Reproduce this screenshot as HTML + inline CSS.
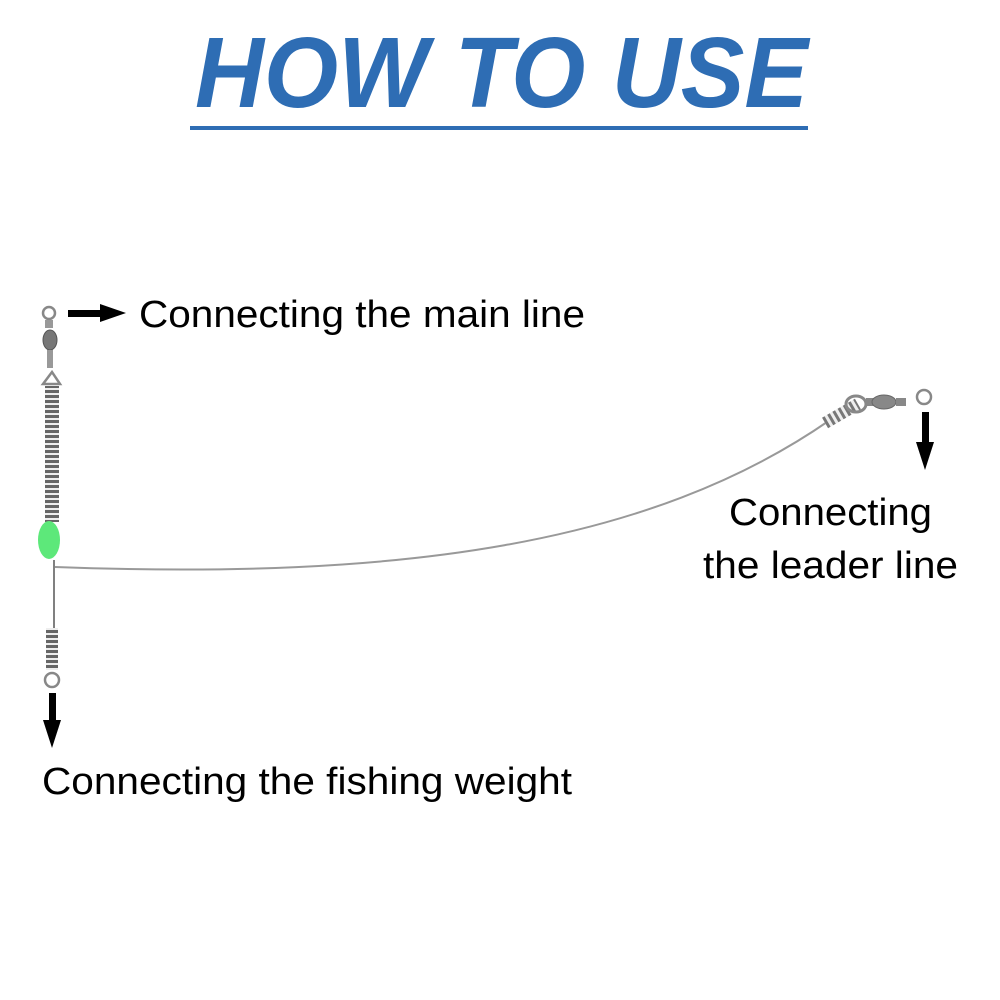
<!DOCTYPE html>
<html><head><meta charset="utf-8"><style>
html,body{margin:0;padding:0;background:#fff;}
svg{display:block;}
text{font-family:"Liberation Sans",Arial,sans-serif;}
</style></head><body>
<svg width="1000" height="1000" viewBox="0 0 1000 1000" xmlns="http://www.w3.org/2000/svg">
<defs>
<pattern id="sp" width="14" height="5" patternUnits="userSpaceOnUse">
<rect width="14" height="5" fill="#eee"/>
<rect y="0" width="14" height="3" fill="#666"/>
</pattern>
<pattern id="sp2" width="6" height="14" patternUnits="userSpaceOnUse">
<rect width="6" height="14" fill="#eee"/>
<rect width="3" height="14" fill="#777"/>
</pattern>
</defs>
<rect width="1000" height="1000" fill="#fff"/>
<text x="195" y="107" font-size="100" font-weight="bold" font-style="italic" fill="#2e6db4" textLength="613" lengthAdjust="spacingAndGlyphs">HOW TO USE</text>
<rect x="190" y="126" width="618" height="4" fill="#2e6db4"/>

<!-- left rig -->
<circle cx="49" cy="313" r="6" fill="none" stroke="#888" stroke-width="2.5"/>
<rect x="45" y="320" width="8" height="8" fill="#999"/>
<ellipse cx="50" cy="340" rx="7" ry="10" fill="#777" stroke="#555"/>
<rect x="47" y="350" width="6" height="18" fill="#999"/>
<path d="M43,384 L52,372 L60,384 Z" fill="none" stroke="#888" stroke-width="2.5"/>
<rect x="45" y="386" width="14" height="136" fill="url(#sp)"/>
<ellipse cx="49" cy="540" rx="11" ry="19" fill="#5de87a"/>
<line x1="54" y1="560" x2="54" y2="628" stroke="#555" stroke-width="1.5"/>
<rect x="46" y="628" width="12" height="42" fill="url(#sp)"/>
<circle cx="52" cy="680" r="7" fill="none" stroke="#888" stroke-width="2.5"/>
<rect x="49" y="693" width="7" height="30" fill="#000"/>
<polygon points="43,720 61,720 52,748" fill="#000"/>

<!-- arrow right -->
<rect x="68" y="310" width="34" height="7" fill="#000"/>
<polygon points="100,304 100,322 126,313" fill="#000"/>
<text x="139" y="327" font-size="38" fill="#000" textLength="446" lengthAdjust="spacingAndGlyphs">Connecting the main line</text>

<!-- leader wire -->
<path d="M55,567 C400,580 650,545 830,420" fill="none" stroke="#999" stroke-width="2"/>
<g transform="translate(825,423) rotate(-30)">
<rect x="0" y="-6" width="38" height="12" fill="url(#sp2)"/>
</g>
<ellipse cx="856" cy="404" rx="10" ry="8" fill="none" stroke="#888" stroke-width="3"/>
<rect x="866" y="398" width="8" height="8" fill="#888"/>
<ellipse cx="884" cy="402" rx="12" ry="7" fill="#888" stroke="#666"/>
<rect x="896" y="398" width="10" height="8" fill="#888"/>
<circle cx="924" cy="397" r="7" fill="none" stroke="#888" stroke-width="2.5"/>
<rect x="922" y="412" width="7" height="32" fill="#000"/>
<polygon points="916,442 934,442 925,470" fill="#000"/>
<text x="729" y="525" font-size="38" fill="#000" textLength="203" lengthAdjust="spacingAndGlyphs">Connecting</text>
<text x="703" y="578" font-size="38" fill="#000" textLength="255" lengthAdjust="spacingAndGlyphs">the leader line</text>

<text x="42" y="794" font-size="38" fill="#000" textLength="530" lengthAdjust="spacingAndGlyphs">Connecting the fishing weight</text>
</svg>
</body></html>
